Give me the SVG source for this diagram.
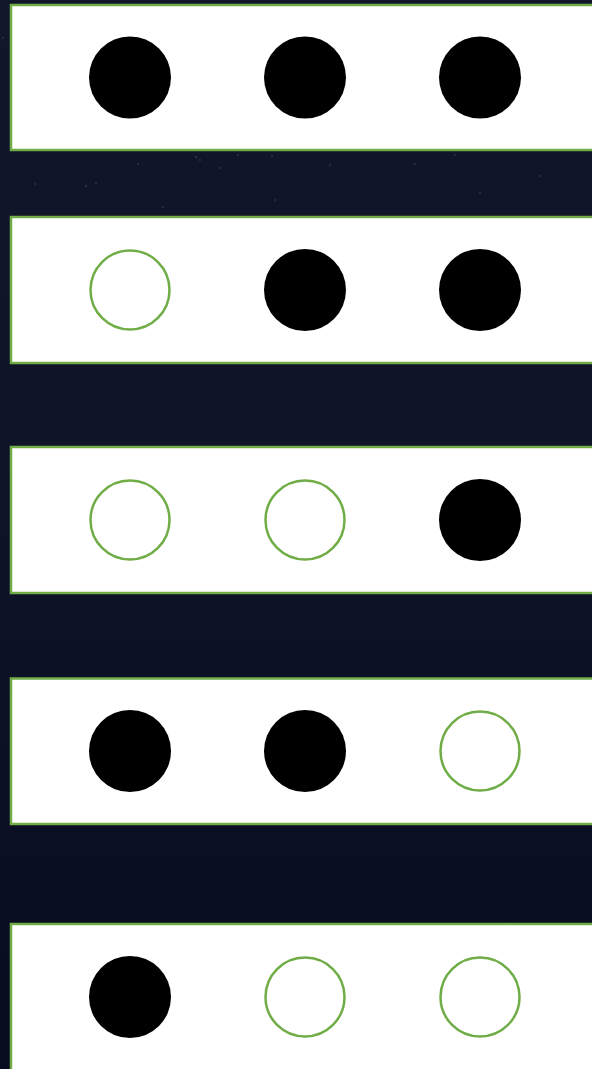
<svg xmlns="http://www.w3.org/2000/svg" width="592" height="1069" viewBox="0 0 592 1069">
<defs>
<linearGradient id="bg" x1="0" y1="0" x2="0" y2="1">
<stop offset="0" stop-color="#12162a"/>
<stop offset="0.5" stop-color="#0e1328"/>
<stop offset="1" stop-color="#080c1f"/>
</linearGradient>
<style>
.box{fill:#ffffff;stroke:#70ad47;stroke-width:2.5}
.on{fill:#000000}
.off{fill:#ffffff;stroke:#70ad47;stroke-width:2.5}
.star{fill:#ffffff;opacity:0.12}
</style>
</defs>
<rect x="0" y="0" width="592" height="1069" fill="url(#bg)"/>
<g id="stars">
<circle class="star" cx="3" cy="38" r="1"/>
<circle class="star" cx="35" cy="184" r="1"/>
<circle class="star" cx="86" cy="186" r="1.2"/>
<circle class="star" cx="96" cy="183" r="1"/>
<circle class="star" cx="138" cy="164" r="1"/>
<circle class="star" cx="196" cy="157" r="1.2"/>
<circle class="star" cx="200" cy="160" r="1"/>
<circle class="star" cx="220" cy="168" r="1"/>
<circle class="star" cx="238" cy="155" r="1"/>
<circle class="star" cx="272" cy="156" r="1"/>
<circle class="star" cx="330" cy="165" r="1"/>
<circle class="star" cx="415" cy="164" r="1"/>
<circle class="star" cx="455" cy="155" r="1"/>
<circle class="star" cx="480" cy="193" r="1"/>
<circle class="star" cx="540" cy="176" r="1"/>
<circle class="star" cx="163" cy="207" r="1"/>
<circle class="star" cx="275" cy="200" r="1"/>
</g>
<g id="row1">
<rect class="box" x="11" y="5" width="600" height="145"/>
<circle class="on" cx="130" cy="77.5" r="41"/>
<circle class="on" cx="305" cy="77.5" r="41"/>
<circle class="on" cx="480" cy="77.5" r="41"/>
</g>
<g id="row2">
<rect class="box" x="11" y="217" width="600" height="146"/>
<circle class="off" cx="130" cy="290" r="39.5"/>
<circle class="on" cx="305" cy="290" r="41"/>
<circle class="on" cx="480" cy="290" r="41"/>
</g>
<g id="row3">
<rect class="box" x="11" y="447" width="600" height="146"/>
<circle class="off" cx="130" cy="520" r="39.5"/>
<circle class="off" cx="305" cy="520" r="39.5"/>
<circle class="on" cx="480" cy="520" r="41"/>
</g>
<g id="row4">
<rect class="box" x="11" y="678.5" width="600" height="145.5"/>
<circle class="on" cx="130" cy="751" r="41"/>
<circle class="on" cx="305" cy="751" r="41"/>
<circle class="off" cx="480" cy="751" r="39.5"/>
</g>
<g id="row5">
<rect class="box" x="11" y="924" width="600" height="200"/>
<circle class="on" cx="130" cy="997" r="41"/>
<circle class="off" cx="305" cy="997" r="39.5"/>
<circle class="off" cx="480" cy="997" r="39.5"/>
</g>
<g id="connectors"></g>
</svg>
